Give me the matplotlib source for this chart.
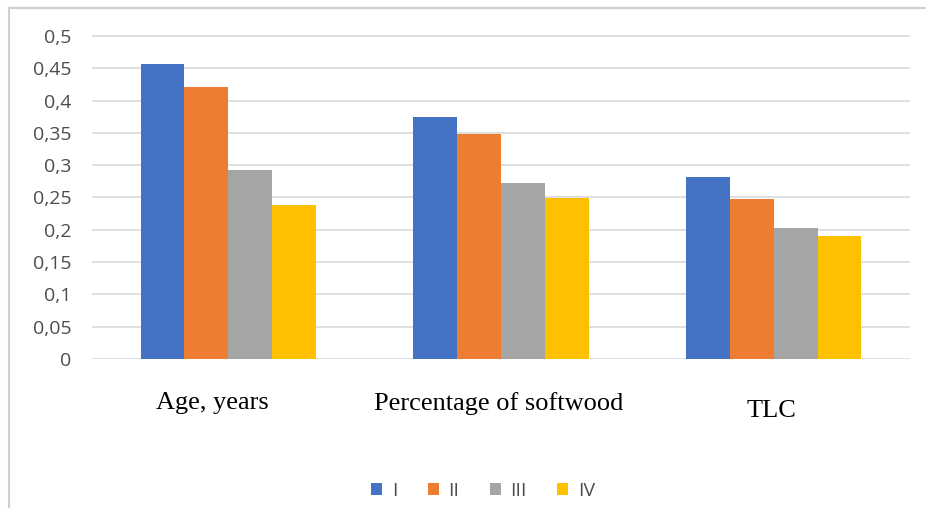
#!/usr/bin/env python3
"""Grouped bar chart: factor weights by class (I-IV)."""

import matplotlib.pyplot as plt
import matplotlib.transforms as mtransforms
import numpy as np
from matplotlib.patches import Rectangle

categories = ["Age, years", "Percentage of softwood", "TLC"]
series_names = ["I", "II", "III", "IV"]
val_I = [0.456, 0.374, 0.281]
val_II = [0.421, 0.348, 0.248]
val_III = [0.293, 0.273, 0.203]
val_IV = [0.238, 0.249, 0.190]
yticks = [0, 0.05, 0.1, 0.15, 0.2, 0.25, 0.3, 0.35, 0.4, 0.45, 0.5]
ytick_labels = ["0", "0,05", "0,1", "0,15", "0,2", "0,25", "0,3", "0,35", "0,4", "0,45", "0,5"]

COLORS = ["#4472C4", "#ED7D31", "#A5A5A5", "#FFC000"]
GRAY = "#4d4d4d"

W, H = 926, 508


def main():
    fig = plt.figure(figsize=(W / 100, H / 100), dpi=100)

    # light frame of the screenshot (left + top edges)
    fig.patches.append(Rectangle((9 / W, -0.1), 1.2, (H - 8) / H + 0.1,
                                 transform=fig.transFigure, fill=False,
                                 edgecolor="#D0D0D0", linewidth=1.5))

    left, right = 92, 910
    top_px, zero_px = 34.7, 359
    ax = fig.add_axes([left / W, (H - zero_px) / H, (right - left) / W, (zero_px - top_px) / H])

    x = np.arange(len(categories))
    bw = 0.161
    all_vals = [val_I, val_II, val_III, val_IV]
    for i, (vals, name) in enumerate(zip(all_vals, series_names)):
        ax.bar(x + (i - 1.5) * bw, vals, width=bw, color=COLORS[i], label=name, zorder=3)

    ax.set_xlim(-0.5, len(categories) - 0.5)
    ax.set_ylim(0, 0.502)
    ax.set_yticks(yticks)
    ax.set_yticklabels(ytick_labels, fontsize=14, color=GRAY, family="Open Sans")
    ax.yaxis.grid(True, color="#D9D9D9", linewidth=1.2)
    ax.set_axisbelow(True)
    ax.tick_params(axis="y", length=0, pad=15)
    for s in ax.spines.values():
        s.set_visible(False)

    ax.set_xticks(x)
    ax.set_xticklabels(categories, fontsize=19, family="Liberation Serif", color="black")
    ax.tick_params(axis="x", length=0, pad=24)
    offsets = [(-16, 0), (-2, 0), (-2, -8)]
    for lab, (dx, dy) in zip(ax.get_xticklabels(), offsets):
        lab.set_transform(lab.get_transform() +
                          mtransforms.ScaledTranslation(dx / 100, dy / 100, fig.dpi_scale_trans))

    fig.legend(loc="center", bbox_to_anchor=(483 / W, 1 - 491 / H), ncol=4,
               frameon=False, handlelength=0.57, handleheight=0.57, handletextpad=0.5,
               columnspacing=1.55, prop={"family": "Open Sans", "size": 14},
               labelcolor=GRAY)

    fig.savefig("out.png", dpi=100)
    plt.close(fig)


if __name__ == "__main__":
    main()
